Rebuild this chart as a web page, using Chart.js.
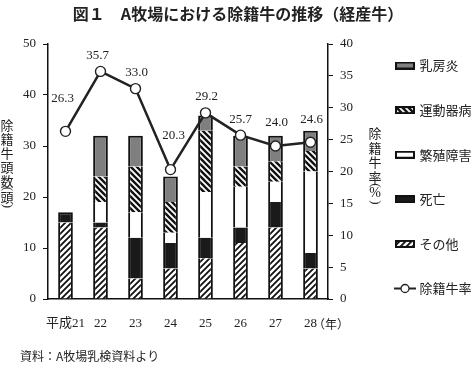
<!DOCTYPE html>
<html lang="ja">
<head>
<meta charset="utf-8">
<script src="https://cdn.jsdelivr.net/npm/chart.js@4.4.1/dist/chart.umd.min.js"></script>
<style>
  html, body { margin: 0; padding: 0; background: #fff; }
  #wrap { width: 476px; height: 365px; }
</style>
</head>
<body>
<div id="wrap"><canvas id="chart" width="476" height="365"></canvas></div>
<script>
// 年次
const years = ["平成21", "22", "23", "24", "25", "26", "27", "28"];

// 除籍頭数（頭）: 積み上げ順 下から
const otherCows = [15, 14, 4, 6, 8, 11, 14, 6];
const deathCows = [2, 1, 8, 5, 4, 3, 5, 3];
const breedingCows = [0, 4, 5, 2, 9, 8, 4, 16];
const locomotorCows = [0, 5, 9, 6, 12, 4, 4, 4];
const mastitisCows = [0, 8, 6, 5, 3, 6, 5, 4];

// 除籍牛率（%）
const removalRate = [26.3, 35.7, 33.0, 20.3, 29.2, 25.7, 24.0, 24.6];

// 軸の目盛
const countTicks = [0, 10, 20, 30, 40, 50];
const rateTicks = [0, 5, 10, 15, 20, 25, 30, 35, 40];

// ラベル位置のずらし量（px）
const rateLabelShift = [[-3, -33], [-3, -16], [1, -16], [3, -34], [1, -16], [0, -16], [1, -23], [1, -23]];

const serif = "'Liberation Serif', 'Noto Sans CJK JP', serif";
const gothic = "'Noto Sans CJK JP', 'Noto Sans', sans-serif";
const ink = "#222";

function hatch(dir, lineWidth) {
  const s = 6;
  const c = document.createElement("canvas");
  c.width = s; c.height = s;
  const g = c.getContext("2d");
  g.fillStyle = "#fff";
  g.fillRect(0, 0, s, s);
  g.strokeStyle = "#111";
  g.lineWidth = lineWidth;
  g.beginPath();
  if (dir === "/") {
    g.moveTo(0, s); g.lineTo(s, 0);
    g.moveTo(-s / 2, s / 2); g.lineTo(s / 2, -s / 2);
    g.moveTo(s / 2, s * 1.5); g.lineTo(s * 1.5, s / 2);
  } else {
    g.moveTo(0, 0); g.lineTo(s, s);
    g.moveTo(-s / 2, s / 2); g.lineTo(s / 2, s * 1.5);
    g.moveTo(s / 2, -s / 2); g.lineTo(s * 1.5, s / 2);
  }
  g.stroke();
  return g.createPattern(c, "repeat");
}

const otherFill = hatch("/", 1.8);
const locomotorFill = hatch("\\", 2.4);

function legendBox(fill) {
  const c = document.createElement("canvas");
  c.width = 20; c.height = 8;
  const g = c.getContext("2d");
  g.fillStyle = fill;
  g.fillRect(0, 0, 20, 8);
  g.strokeStyle = "#111";
  g.lineWidth = 2;
  g.strokeRect(1, 1, 18, 6);
  return c;
}

function legendLine() {
  const c = document.createElement("canvas");
  c.width = 22; c.height = 11;
  const g = c.getContext("2d");
  g.strokeStyle = ink;
  g.lineWidth = 2;
  g.beginPath(); g.moveTo(0, 5.5); g.lineTo(22, 5.5); g.stroke();
  g.fillStyle = "#fff";
  g.lineWidth = 1.3;
  g.beginPath(); g.arc(11, 5.5, 4, 0, Math.PI * 2); g.fill(); g.stroke();
  return c;
}

const barSeries = [
  { label: "その他", data: otherCows, fill: otherFill },
  { label: "死亡", data: deathCows, fill: "#1a1a1a" },
  { label: "繁殖障害", data: breedingCows, fill: "#ffffff" },
  { label: "運動器病", data: locomotorCows, fill: locomotorFill },
  { label: "乳房炎", data: mastitisCows, fill: "#7f7f7f" }
];

// 各年の一番上の区分
const topSeries = years.map((_, i) => {
  let top = -1;
  barSeries.forEach((s, k) => { if (s.data[i] > 0) top = k; });
  return top;
});

const datasets = barSeries.map((s) => ({
  type: "bar",
  label: s.label,
  data: s.data,
  backgroundColor: s.fill,
  borderColor: "#111",
  borderSkipped: false,
  borderWidth: (ctx) => ({
    left: 2,
    right: 2,
    bottom: 0,
    top: ctx.dataIndex !== undefined && topSeries[ctx.dataIndex] === ctx.datasetIndex ? 2 : 0
  }),
  yAxisID: "y",
  order: 1,
  barPercentage: 0.42,
  categoryPercentage: 1
}));

datasets.push({
  type: "line",
  label: "除籍牛率",
  data: removalRate,
  yAxisID: "y1",
  borderColor: ink,
  borderWidth: 2.5,
  pointRadius: 5,
  pointBackgroundColor: "#fff",
  pointBorderColor: ink,
  pointBorderWidth: 1.4,
  tension: 0,
  order: 0
});

function drawVertical(ctx, chars, x, y, step) {
  let cy = y;
  chars.forEach((ch) => {
    if (ch === "(" || ch === ")") {
      const py = ch === "(" ? cy - 6 : cy - step + 9;
      ctx.save();
      ctx.translate(x, py);
      ctx.rotate(Math.PI / 2);
      ctx.font = "13px " + serif;
      ctx.fillText(ch, 0, 0);
      ctx.restore();
      if (ch === "(") cy += 2;
    } else {
      ctx.font = (ch === "%" ? "14px " + serif : "13px " + gothic);
      ctx.fillText(ch, x, cy);
      cy += step;
    }
  });
}

const extraText = {
  id: "extraText",
  afterDraw(chart) {
    const { ctx, chartArea } = chart;
    ctx.save();
    ctx.fillStyle = ink;
    ctx.textAlign = "center";
    ctx.textBaseline = "middle";

    // 折れ線の値
    ctx.font = "13px " + serif;
    chart.getDatasetMeta(5).data.forEach((pt, i) => {
      const [dx, dy] = rateLabelShift[i];
      ctx.fillText(removalRate[i].toFixed(1), pt.x + dx, pt.y + dy);
    });

    // 軸タイトル（縦書き）
    drawVertical(ctx, ["除", "籍", "牛", "頭", "数", "(", "頭", ")"], 7, 125, 14);
    drawVertical(ctx, ["除", "籍", "牛", "率", "(", "%", ")"], 375, 133, 14.6);

    // （年）
    ctx.textAlign = "left";
    ctx.font = "12px " + gothic;
    ctx.fillText("（年）", 313, chartArea.bottom + 25);

    // 出典
    ctx.font = "12px " + gothic;
    ctx.fillText("資料：A牧場乳検資料より", 20, 356);
    ctx.restore();
  }
};

new Chart(document.getElementById("chart"), {
  data: { labels: years, datasets },
  plugins: [extraText],
  options: {
    responsive: false,
    animation: false,
    layout: { padding: { left: 0, right: 0, top: 0, bottom: 16.4 } },
    plugins: {
      tooltip: { enabled: false },
      title: {
        display: true,
        text: "図１　A牧場における除籍牛の推移（経産牛）",
        color: ink,
        font: { family: gothic, size: 16, weight: "bold" },
        padding: { top: 4, bottom: 20.8 }
      },
      legend: {
        position: "right",
        align: "start",
        maxWidth: 110.6,
        title: { display: true, text: " ", font: { size: 10 }, padding: 7.7 },
        labels: {
          usePointStyle: true,
          pointStyleWidth: 16,
          padding: 31.6,
          color: ink,
          font: { family: gothic, size: 13 },
          generateLabels: () => {
            const items = barSeries.map((s, k) => ({
              text: s.label,
              pointStyle: legendBox(s.fill),
              datasetIndex: k,
              hidden: false,
              fontColor: ink
            })).reverse();
            items.push({ text: "除籍牛率", pointStyle: legendLine(), datasetIndex: 5, hidden: false, fontColor: ink });
            return items;
          }
        }
      }
    },
    scales: {
      x: {
        stacked: true,
        offset: true,
        grid: { display: true, drawOnChartArea: false, drawTicks: false },
        border: { display: true, color: "#111", width: 1.5 },
        ticks: { color: ink, padding: 17, maxRotation: 0, minRotation: 0, autoSkip: false, font: { family: serif, size: 13 } }
      },
      y: {
        stacked: true,
        position: "left",
        min: 0,
        max: 50,
        afterBuildTicks: (scale) => { scale.ticks = countTicks.map((v) => ({ value: v })); },
        afterFit: (scale) => { scale.width = 48; },
        grid: { display: true, drawOnChartArea: false, drawTicks: true, tickLength: 5, color: "#111", tickWidth: 1 },
        border: { display: true, color: "#111", width: 1.5 },
        ticks: { color: ink, padding: 7, font: { family: serif, size: 13 } }
      },
      y1: {
        position: "right",
        min: 0,
        max: 40,
        afterBuildTicks: (scale) => { scale.ticks = rateTicks.map((v) => ({ value: v })); },
        afterFit: (scale) => { scale.width = 37.4; },
        grid: { display: true, drawOnChartArea: false, drawTicks: true, tickLength: 5, color: "#111", tickWidth: 1 },
        border: { display: true, color: "#111", width: 1.5 },
        ticks: { color: ink, padding: 7, font: { family: serif, size: 13 } }
      }
    }
  }
});
</script>
</body>
</html>
